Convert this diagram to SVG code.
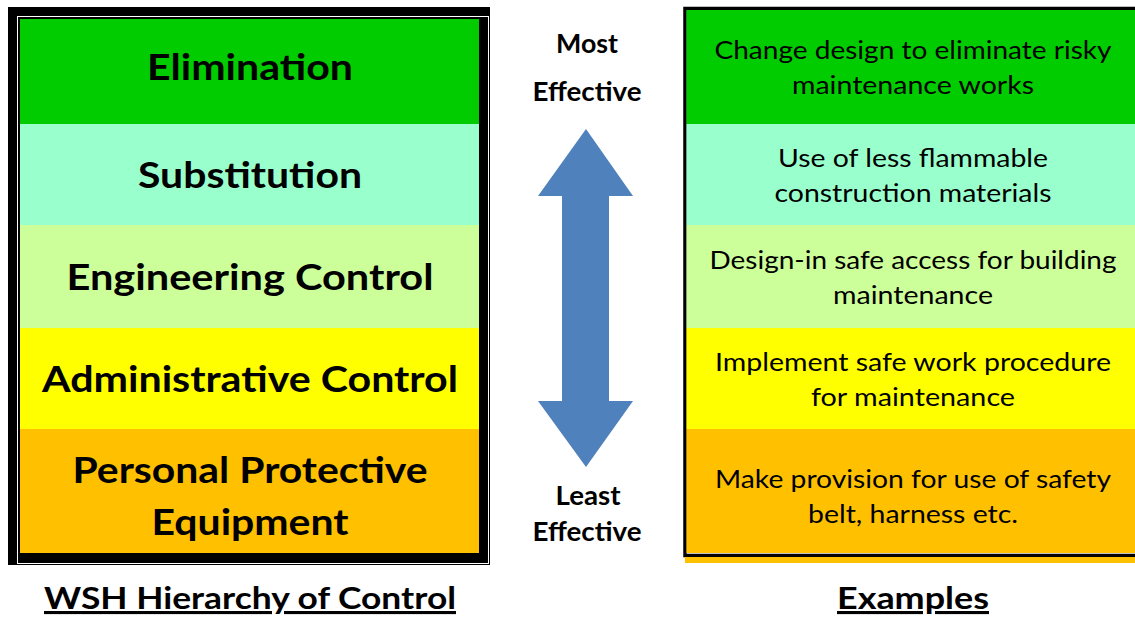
<svg xmlns="http://www.w3.org/2000/svg" width="1135" height="619" viewBox="0 0 1135 619">
<style>
.h{font-family:Lato,"Liberation Sans",sans-serif;font-weight:bold;font-size:36px;fill:#000;text-anchor:middle}
.e{font-family:Lato,"Liberation Sans",sans-serif;font-size:25px;fill:#000;text-anchor:middle}
.m{font-family:Lato,"Liberation Sans",sans-serif;font-weight:bold;font-size:26px;fill:#000;text-anchor:middle}
.t{font-family:Lato,"Liberation Sans",sans-serif;font-weight:bold;font-size:31px;fill:#000;text-anchor:middle;text-decoration:underline}
</style>
<rect width="1135" height="619" fill="#fff"/>
<g id="hierarchy">
<rect x="8" y="7" width="482" height="558" fill="#000"/>
<rect x="17.5" y="16.5" width="471" height="547" fill="none" stroke="#fff" stroke-width="1"/>
<rect x="20" y="19" width="459" height="105" fill="#00CC00"/>
<rect x="20" y="124" width="459" height="101" fill="#99FFCC"/>
<rect x="20" y="225" width="459" height="103" fill="#CCFF99"/>
<rect x="20" y="328" width="459" height="101" fill="#FFFF00"/>
<rect x="20" y="429" width="459" height="124" fill="#FFC000"/>
</g>
<g id="n-elimination"><text class="h" x="250" y="80" textLength="206" lengthAdjust="spacingAndGlyphs">Elimination</text></g>
<g id="n-substitution"><text class="h" x="250" y="188" textLength="224" lengthAdjust="spacingAndGlyphs">Substitution</text></g>
<g id="n-engineering"><text class="h" x="250" y="290" textLength="367" lengthAdjust="spacingAndGlyphs">Engineering Control</text></g>
<g id="n-administrative"><text class="h" x="250" y="392" textLength="416" lengthAdjust="spacingAndGlyphs">Administrative Control</text></g>
<g id="n-ppe"><text class="h" x="250" y="483" textLength="355" lengthAdjust="spacingAndGlyphs">Personal Protective</text><text class="h" x="250" y="535" textLength="197" lengthAdjust="spacingAndGlyphs">Equipment</text></g>
<g id="examples">
<rect x="685" y="8.5" width="460" height="547" fill="none" stroke="#000" stroke-width="3.5"/>
<rect x="686.5" y="10" width="460" height="114" fill="#00CC00"/>
<rect x="686.5" y="124" width="460" height="101" fill="#99FFCC"/>
<rect x="686.5" y="225" width="460" height="103" fill="#CCFF99"/>
<rect x="686.5" y="328" width="460" height="101" fill="#FFFF00"/>
<rect x="686.5" y="429" width="460" height="124" fill="#FFC000"/>
<rect x="685" y="557" width="460" height="6" fill="#FFC000"/>
</g>
<g id="ex-1"><text class="e" x="913" y="59" textLength="397" lengthAdjust="spacingAndGlyphs">Change design to eliminate risky</text><text class="e" x="913" y="94" textLength="242" lengthAdjust="spacingAndGlyphs">maintenance works</text></g>
<g id="ex-2"><text class="e" x="913" y="167" textLength="270" lengthAdjust="spacingAndGlyphs">Use of less flammable</text><text class="e" x="913" y="202" textLength="277" lengthAdjust="spacingAndGlyphs">construction materials</text></g>
<g id="ex-3"><text class="e" x="913" y="269" textLength="407" lengthAdjust="spacingAndGlyphs">Design-in safe access for building</text><text class="e" x="913" y="304" textLength="160" lengthAdjust="spacingAndGlyphs">maintenance</text></g>
<g id="ex-4"><text class="e" x="913" y="371" textLength="396" lengthAdjust="spacingAndGlyphs">Implement safe work procedure</text><text class="e" x="913" y="406" textLength="204" lengthAdjust="spacingAndGlyphs">for maintenance</text></g>
<g id="ex-5"><text class="e" x="913" y="488" textLength="396" lengthAdjust="spacingAndGlyphs">Make provision for use of safety</text><text class="e" x="913" y="523" textLength="210" lengthAdjust="spacingAndGlyphs">belt, harness etc.</text></g>
<g id="connectors">
<polygon points="586,129 633,196 609,196 609,401 633,401 586,467 538,401 562,401 562,196 538,196" fill="#4F81BD"/>
</g>
<g id="most"><text class="m" x="587" y="53" textLength="62" lengthAdjust="spacingAndGlyphs">Most</text><text class="m" x="587" y="101" textLength="109" lengthAdjust="spacingAndGlyphs">Effective</text></g>
<g id="least"><text class="m" x="588" y="505" textLength="65" lengthAdjust="spacingAndGlyphs">Least</text><text class="m" x="587" y="541" textLength="109" lengthAdjust="spacingAndGlyphs">Effective</text></g>
<g id="title-left"><text class="t" x="250" y="609" textLength="412" lengthAdjust="spacingAndGlyphs">WSH Hierarchy of Control</text></g>
<g id="title-right"><text class="t" x="913" y="609" textLength="152" lengthAdjust="spacingAndGlyphs">Examples</text></g>
</svg>
